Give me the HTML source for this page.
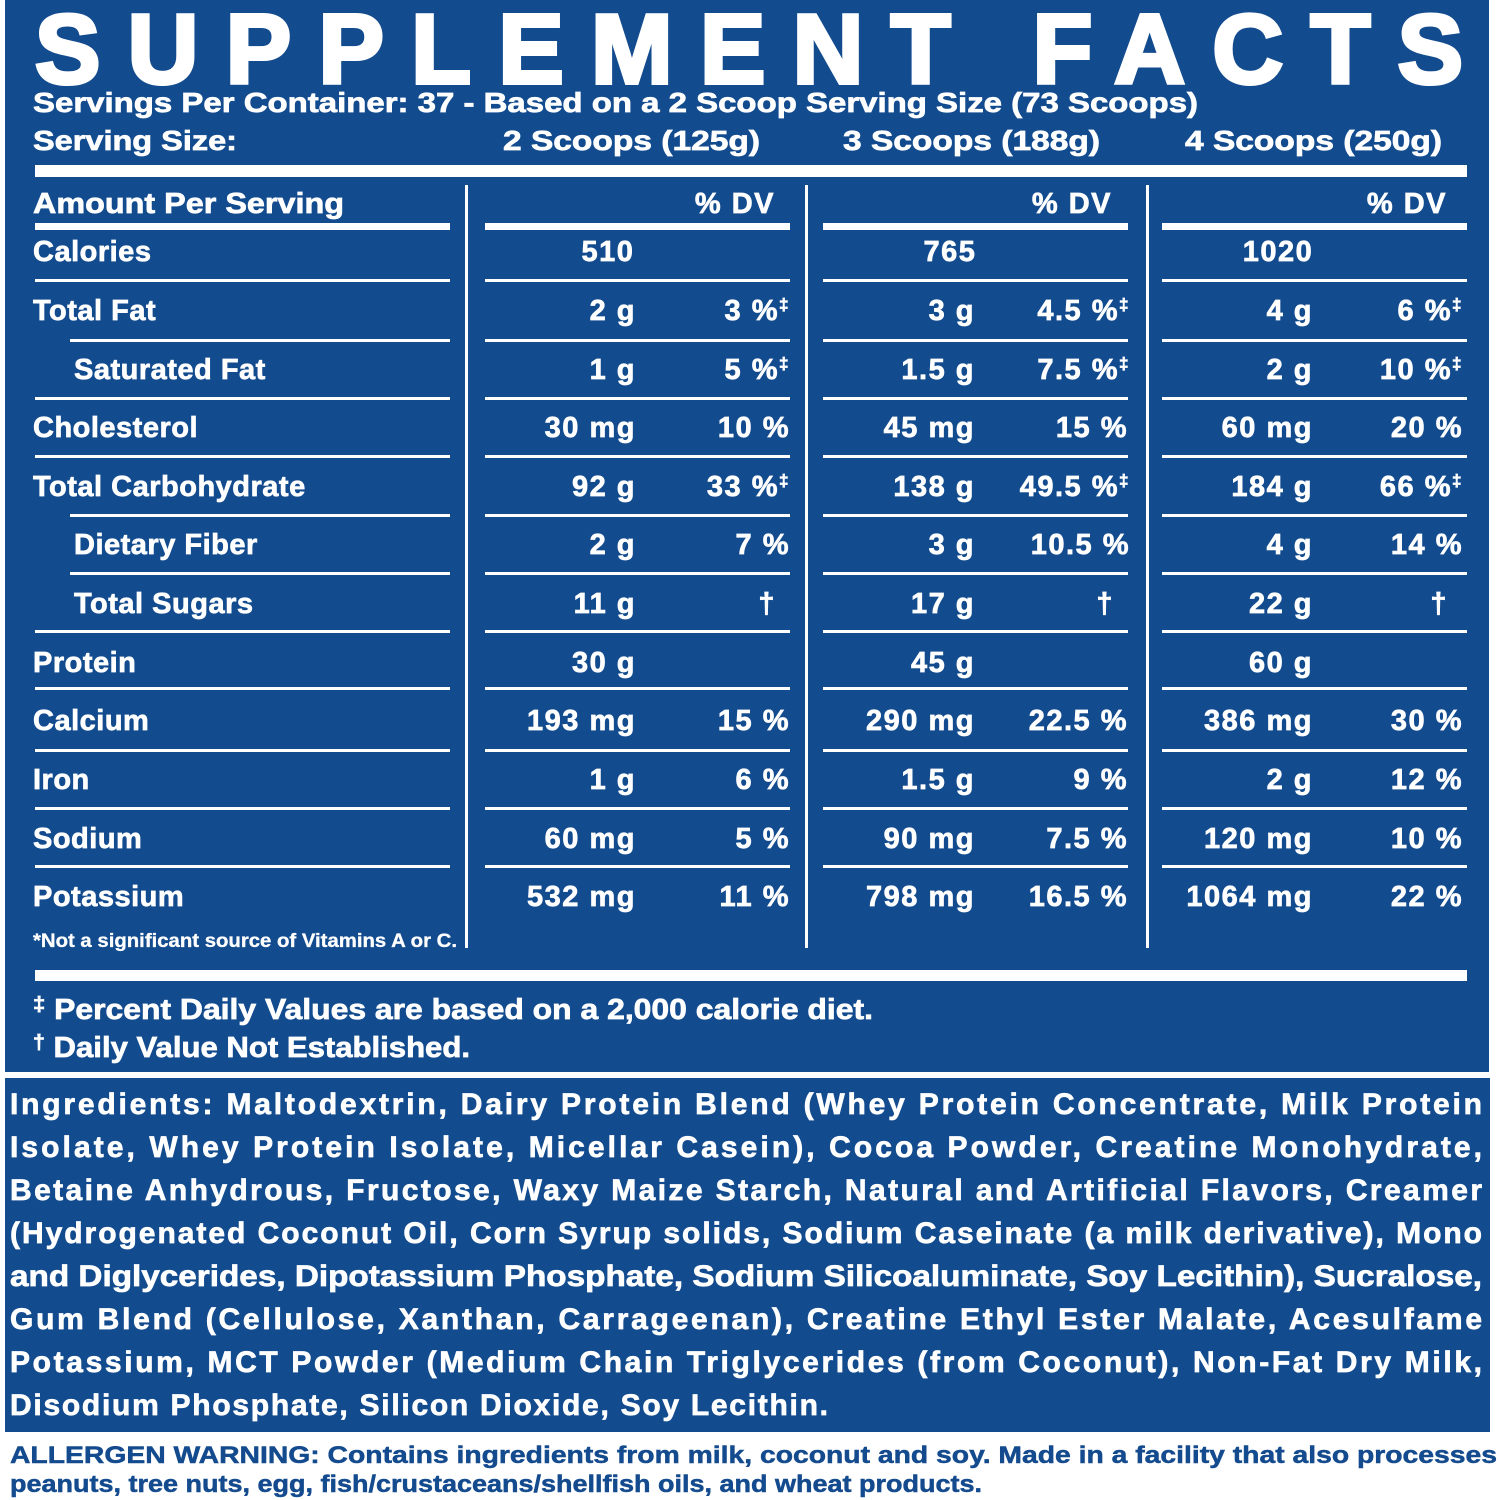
<!DOCTYPE html>
<html><head><meta charset="utf-8"><style>
html,body{margin:0;padding:0;background:#fff;}
svg{display:block;}
text{font-family:"Liberation Sans",Arial,sans-serif;font-weight:bold;fill:#fff;stroke:#fff;stroke-width:0.7px;}
.r{font-size:29px;letter-spacing:0.5px;}
.v{font-size:29px;letter-spacing:1.5px;text-anchor:end;}
.c{font-size:29px;letter-spacing:1.5px;text-anchor:middle;}
.ing{font-size:30px;}
.al{font-size:24px;fill:#144b8e;stroke:#144b8e;stroke-width:0.5px;}
</style></head><body>
<svg width="1500" height="1500" viewBox="0 0 1500 1500" xmlns="http://www.w3.org/2000/svg">
<rect x="0" y="0" width="1500" height="1500" fill="#fff"/>
<rect x="5" y="0" width="1484" height="1072" fill="#134b8f"/>
<rect x="5" y="1078" width="1485" height="354" fill="#134b8f"/>

<text x="35" y="83" font-size="98" textLength="1428" lengthAdjust="spacing" style="font-weight:900;stroke-width:4px">SUPPLEMENT FACTS</text>
<text x="33" y="112" font-size="28" textLength="1165" lengthAdjust="spacingAndGlyphs">Servings Per Container: 37 - Based on a 2 Scoop Serving Size (73 Scoops)</text>
<text x="33" y="150" font-size="28" textLength="204" lengthAdjust="spacingAndGlyphs">Serving Size:</text>
<text x="503" y="150" font-size="28" textLength="257" lengthAdjust="spacingAndGlyphs">2 Scoops (125g)</text>
<text x="843" y="150" font-size="28" textLength="257" lengthAdjust="spacingAndGlyphs">3 Scoops (188g)</text>
<text x="1185" y="150" font-size="28" textLength="257" lengthAdjust="spacingAndGlyphs">4 Scoops (250g)</text>

<rect x="35" y="165" width="1432" height="12" fill="#fff"/>
<rect x="35" y="970" width="1432" height="11" fill="#fff"/>
<rect x="465" y="185" width="3" height="763" fill="#fff"/>
<rect x="805" y="185" width="3" height="763" fill="#fff"/>
<rect x="1146" y="185" width="3" height="763" fill="#fff"/>

<text x="33" y="213" font-size="29" textLength="311" lengthAdjust="spacingAndGlyphs">Amount Per Serving</text>
<text class="v" x="775" y="213">% DV</text>
<text class="v" x="1112" y="213">% DV</text>
<text class="v" x="1447" y="213">% DV</text>

<g fill="#fff">
<rect x="35" y="223" width="415" height="7"/><rect x="485" y="223" width="305" height="7"/><rect x="823" y="223" width="305" height="7"/><rect x="1162" y="223" width="305" height="7"/>
<rect x="35" y="279" width="415" height="3"/><rect x="485" y="279" width="305" height="3"/><rect x="823" y="279" width="305" height="3"/><rect x="1162" y="279" width="305" height="3"/>
<rect x="70" y="339" width="380" height="3"/><rect x="485" y="339" width="305" height="3"/><rect x="823" y="339" width="305" height="3"/><rect x="1162" y="339" width="305" height="3"/>
<rect x="35" y="397" width="415" height="3"/><rect x="485" y="397" width="305" height="3"/><rect x="823" y="397" width="305" height="3"/><rect x="1162" y="397" width="305" height="3"/>
<rect x="35" y="455" width="415" height="3"/><rect x="485" y="455" width="305" height="3"/><rect x="823" y="455" width="305" height="3"/><rect x="1162" y="455" width="305" height="3"/>
<rect x="70" y="514" width="380" height="3"/><rect x="485" y="514" width="305" height="3"/><rect x="823" y="514" width="305" height="3"/><rect x="1162" y="514" width="305" height="3"/>
<rect x="70" y="572" width="380" height="3"/><rect x="485" y="572" width="305" height="3"/><rect x="823" y="572" width="305" height="3"/><rect x="1162" y="572" width="305" height="3"/>
<rect x="35" y="630" width="415" height="3"/><rect x="485" y="630" width="305" height="3"/><rect x="823" y="630" width="305" height="3"/><rect x="1162" y="630" width="305" height="3"/>
<rect x="35" y="687" width="415" height="3"/><rect x="485" y="687" width="305" height="3"/><rect x="823" y="687" width="305" height="3"/><rect x="1162" y="687" width="305" height="3"/>
<rect x="35" y="749" width="415" height="3"/><rect x="485" y="749" width="305" height="3"/><rect x="823" y="749" width="305" height="3"/><rect x="1162" y="749" width="305" height="3"/>
<rect x="35" y="807" width="415" height="3"/><rect x="485" y="807" width="305" height="3"/><rect x="823" y="807" width="305" height="3"/><rect x="1162" y="807" width="305" height="3"/>
<rect x="35" y="865" width="415" height="3"/><rect x="485" y="865" width="305" height="3"/><rect x="823" y="865" width="305" height="3"/><rect x="1162" y="865" width="305" height="3"/>
</g>

<text class="r" x="33" y="261">Calories</text>
<text class="c" x="608" y="261">510</text><text class="c" x="950" y="261">765</text><text class="c" x="1278" y="261">1020</text>

<text class="r" x="33" y="320">Total Fat</text>
<text class="v" x="636" y="320">2 g</text><text class="v" x="790" y="320">3 %<tspan font-size="17" dy="-10">‡</tspan></text>
<text class="v" x="975" y="320">3 g</text><text class="v" x="1130" y="320">4.5 %<tspan font-size="17" dy="-10">‡</tspan></text>
<text class="v" x="1313" y="320">4 g</text><text class="v" x="1463" y="320">6 %<tspan font-size="17" dy="-10">‡</tspan></text>

<text class="r" x="74" y="379">Saturated Fat</text>
<text class="v" x="636" y="379">1 g</text><text class="v" x="790" y="379">5 %<tspan font-size="17" dy="-10">‡</tspan></text>
<text class="v" x="975" y="379">1.5 g</text><text class="v" x="1130" y="379">7.5 %<tspan font-size="17" dy="-10">‡</tspan></text>
<text class="v" x="1313" y="379">2 g</text><text class="v" x="1463" y="379">10 %<tspan font-size="17" dy="-10">‡</tspan></text>

<text class="r" x="33" y="437">Cholesterol</text>
<text class="v" x="636" y="437">30 mg</text><text class="v" x="790" y="437">10 %</text>
<text class="v" x="975" y="437">45 mg</text><text class="v" x="1128" y="437">15 %</text>
<text class="v" x="1313" y="437">60 mg</text><text class="v" x="1463" y="437">20 %</text>

<text class="r" x="33" y="496">Total Carbohydrate</text>
<text class="v" x="636" y="496">92 g</text><text class="v" x="790" y="496">33 %<tspan font-size="17" dy="-10">‡</tspan></text>
<text class="v" x="975" y="496">138 g</text><text class="v" x="1130" y="496">49.5 %<tspan font-size="17" dy="-10">‡</tspan></text>
<text class="v" x="1313" y="496">184 g</text><text class="v" x="1463" y="496">66 %<tspan font-size="17" dy="-10">‡</tspan></text>

<text class="r" x="74" y="554">Dietary Fiber</text>
<text class="v" x="636" y="554">2 g</text><text class="v" x="790" y="554">7 %</text>
<text class="v" x="975" y="554">3 g</text><text class="v" x="1130" y="554">10.5 %</text>
<text class="v" x="1313" y="554">4 g</text><text class="v" x="1463" y="554">14 %</text>

<text class="r" x="74" y="613">Total Sugars</text>
<text class="v" x="636" y="613">11 g</text><text class="v" x="776" y="613">†</text>
<text class="v" x="975" y="613">17 g</text><text class="v" x="1114" y="613">†</text>
<text class="v" x="1313" y="613">22 g</text><text class="v" x="1448" y="613">†</text>

<text class="r" x="33" y="672">Protein</text>
<text class="v" x="636" y="672">30 g</text><text class="v" x="975" y="672">45 g</text><text class="v" x="1313" y="672">60 g</text>

<text class="r" x="33" y="730">Calcium</text>
<text class="v" x="636" y="730">193 mg</text><text class="v" x="790" y="730">15 %</text>
<text class="v" x="975" y="730">290 mg</text><text class="v" x="1128" y="730">22.5 %</text>
<text class="v" x="1313" y="730">386 mg</text><text class="v" x="1463" y="730">30 %</text>

<text class="r" x="33" y="789">Iron</text>
<text class="v" x="636" y="789">1 g</text><text class="v" x="790" y="789">6 %</text>
<text class="v" x="975" y="789">1.5 g</text><text class="v" x="1128" y="789">9 %</text>
<text class="v" x="1313" y="789">2 g</text><text class="v" x="1463" y="789">12 %</text>

<text class="r" x="33" y="848">Sodium</text>
<text class="v" x="636" y="848">60 mg</text><text class="v" x="790" y="848">5 %</text>
<text class="v" x="975" y="848">90 mg</text><text class="v" x="1128" y="848">7.5 %</text>
<text class="v" x="1313" y="848">120 mg</text><text class="v" x="1463" y="848">10 %</text>

<text class="r" x="33" y="906">Potassium</text>
<text class="v" x="636" y="906">532 mg</text><text class="v" x="790" y="906">11 %</text>
<text class="v" x="975" y="906">798 mg</text><text class="v" x="1128" y="906">16.5 %</text>
<text class="v" x="1313" y="906">1064 mg</text><text class="v" x="1463" y="906">22 %</text>

<text x="33" y="947" font-size="19" textLength="424" lengthAdjust="spacingAndGlyphs" style="stroke-width:0.3px">*Not a significant source of Vitamins A or C.</text>

<text x="33" y="1019" font-size="29" textLength="840" lengthAdjust="spacingAndGlyphs"><tspan font-size="20" dy="-8">‡</tspan><tspan dy="8"> Percent Daily Values are based on a 2,000 calorie diet.</tspan></text>
<text x="33" y="1057" font-size="29" textLength="437" lengthAdjust="spacingAndGlyphs"><tspan font-size="20" dy="-8">†</tspan><tspan dy="8"> Daily Value Not Established.</tspan></text>

<text class="ing" x="10" y="1114" textLength="1472" lengthAdjust="spacing">Ingredients: Maltodextrin, Dairy Protein Blend (Whey Protein Concentrate, Milk Protein</text>
<text class="ing" x="10" y="1157" textLength="1472" lengthAdjust="spacing">Isolate, Whey Protein Isolate, Micellar Casein), Cocoa Powder, Creatine  Monohydrate,</text>
<text class="ing" x="10" y="1200" textLength="1472" lengthAdjust="spacing">Betaine Anhydrous, Fructose, Waxy Maize Starch, Natural and Artificial Flavors, Creamer</text>
<text class="ing" x="10" y="1243" textLength="1472" lengthAdjust="spacing">(Hydrogenated Coconut Oil, Corn Syrup solids, Sodium Caseinate (a milk derivative), Mono</text>
<text class="ing" x="10" y="1286" textLength="1472" lengthAdjust="spacingAndGlyphs">and Diglycerides, Dipotassium Phosphate, Sodium Silicoaluminate, Soy Lecithin), Sucralose,</text>
<text class="ing" x="10" y="1329" textLength="1472" lengthAdjust="spacing">Gum Blend (Cellulose, Xanthan, Carrageenan), Creatine Ethyl Ester Malate, Acesulfame</text>
<text class="ing" x="10" y="1372" textLength="1472" lengthAdjust="spacing">Potassium, MCT Powder (Medium Chain Triglycerides (from Coconut), Non-Fat Dry Milk,</text>
<text class="ing" x="10" y="1415" textLength="818" lengthAdjust="spacing">Disodium Phosphate, Silicon Dioxide, Soy Lecithin.</text>

<text class="al" x="10" y="1463" textLength="1487" lengthAdjust="spacingAndGlyphs">ALLERGEN WARNING: Contains ingredients from milk, coconut and soy. Made in a facility that also processes</text>
<text class="al" x="10" y="1492" textLength="972" lengthAdjust="spacingAndGlyphs">peanuts, tree nuts, egg, fish/crustaceans/shellfish oils, and wheat products.</text>
</svg>
</body></html>
